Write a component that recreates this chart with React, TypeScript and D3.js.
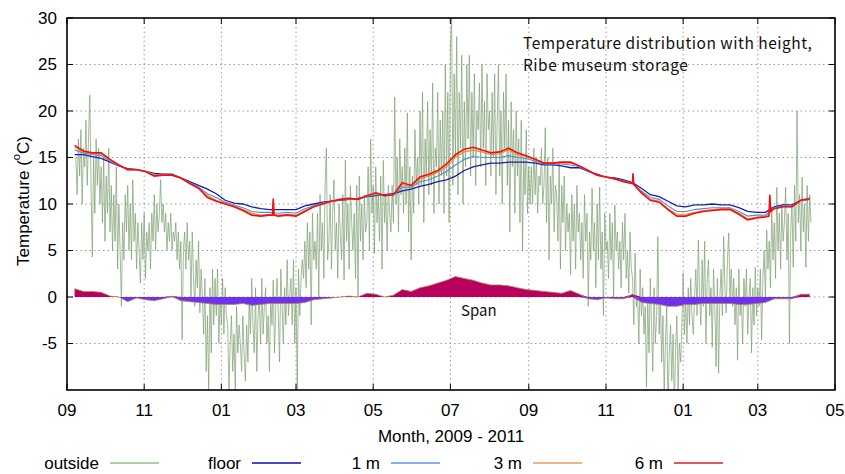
import React from "react";
import * as d3 from "d3";

// ---------- data ----------
const startDate = Date.UTC(2009, 8, 1);
const endDate = Date.UTC(2011, 4, 1);

// outside temperature, one value per day starting at day 7 after 2009-09-01
const outsideStartDay = 7;
const outside = [
  15, 11, 17, 13, 18, 10, 16, 14, 19, 12,
  17, 21.7, 12, 4.3, 15, 9, 17, 12, 16, 10,
  14, 8, 15, 6, 13, 9, 16, 7, 12, 5,
  11, 6, 14, 3, 10, 5, -1, 8, 4, 11,
  7, 12, 5, 10, 4, 12.6, 6, 9, 3, 8,
  5, 1.5, 8, 4, 9, 2, 7, 5, 8, 3,
  9, 6, 11, 5, 10, 7, 9, 12.6, 8, 10,
  7, 9, 5, 8, 6, 9, 5, 7, 6, 8,
  4, 7, 3, 6, -4.6, 5, 7, 3, 8, 4,
  6, 0, 7, 2, -1, 4, 1, 6, -1.7, 3,
  0, -4, 2, -8, -2, -10, 1, -6, 3, -3,
  2, -2, 3, -5, 0, -3, 2, -4, 1, -2,
  -3, -10, -5, -2, -8, -4, -10, -1, -6, -3,
  -5, -8, -2, -6, -9, -3, -7, 0, -4, 2,
  -3, -6, 1, -8, -2, 0, -5, 2, -4, -1,
  1, -5, -2, -8, 0, -3, 1.8, -6, -1, 2,
  -2, -7, 3, -1, -5, 1, -3, 4, -2, 0,
  2, -3, 4, -5, 1, -10, 3, -2, 2, 4,
  2, 6, 1, 8, 3, 7, -3, 9, 4, 6,
  3, 9, 0, 11, 5, 8, 2, 12, 16, 4,
  6, 11, 3, 9, 12.6, 5, 8, 2, 10, 7,
  4, 11, 1.8, 14.7, 6, 10, 3, 12, 8, 5,
  9, 2, 12, 0, 13, 6, 10, 4, 11, 7,
  8, 14, 5, 17, 9, 12, 4.7, 14, 8, 11,
  6, 13, 3, 14.7, 8, 11, 5, 12, 9, 7,
  12, 8, 21.5, 10, 15, 7, 17, 11, 14, 9,
  16, 10, 19.8, 7, 14, 4, 13, 9, 18, 12,
  15, 10, 20, 12, 22, 8, 17, 13, 21, 11,
  18, 12, 23, 9, 16, 14, 22, 10, 19, 13,
  20, 9, 25, 13, 22, 8, 27, 30, 12, 24,
  15, 28, 11, 22, 16, 26, 10, 21, 14, 25,
  17, 26, 13, 22, 15, 24, 12, 20, 18, 23,
  14, 25, 16, 21, 12, 24, 18, 20, 13, 22,
  15, 24, 11, 19, 25, 13, 20, 10, 22, 16,
  24, 12, 19, 7, 21, 14, 18, 9, 20, 13,
  17, 8, 19, 5, 15, 11, 18, 9, 14, 10,
  14, 10, 16, 11, 15, 9, 13, 12, 16, 10,
  12, 18.2, 8, 15, 4, 13, 10, 16, 7, 12,
  11, 6, 14.6, 3, 12, 8, 13, 5, 10, 7,
  9, 2.4, 11, 6, 10, 3, 12, 7, 9, 4,
  8, 2, 11, 6, 9, -1, 7, 4, 11.7, 5,
  8, 1, 10, 4, 11.8, 3, 7, -2, 9, 5,
  6, 2, 9, 4, 8, 0, 9.9, 5, 7, 3,
  6, 1, 8, 4, 9, 2, 5, 0.4, 7, 3,
  2, -3, 4.7, -1, 0, -5, 3, -2, 1, -4,
  -1, -9.7, 0, -6, 2, -3, -8, 1, -5, -2,
  6.5, -4, 0, -7, -2, -10, -5, -1, -12, -6,
  -3, -9, -4, -12, -6, -2, -10, -5, -7, -3,
  2.6, -4, 0, -5, 1, -3, 2, -2, -4, 0,
  3, -2, 6.1, 0, -3, 4, -1, 6, -5, 2,
  4, -2, 1, -5.4, 3, -1, -7.5, 2, -8.2, 0,
  3, -2, 6.5, 1, -1.7, 4, 6.9, 0, 3, -1,
  2, -3, 1, -6.8, 3, -2, 0, -5, 2, -1,
  3, -4, 0, 2, -6, 1, -3, 3.2, -2, 1,
  -1, 3, -4.6, 2, 5, 0, 7.2, 3, 6, 1,
  9.7, 4, 8, 2, 11.8, 5, 9, 3, 10, 6,
  8, 11.8, 4, 9, -5, 7, 10, 3.2, 12, 6,
  20, 8, 11, 5, 12.9, 7, 10, 3.2, 12, 6,
  11, 8,
];

// indoor sensors: weekly values starting at day 6
const indoorStartDay = 6;
const indoorStepDays = 7;
const floor = [
  15.3, 15.3, 15.1, 14.9, 14.5, 14.1, 13.8, 13.7, 13.5, 13.3,
  13.2, 13.2, 12.8, 12.4, 12.0, 11.6, 11.1, 10.4, 10.1, 10.0,
  9.7, 9.5, 9.4, 9.4, 9.4, 9.4, 9.8, 10.0, 10.2, 10.3,
  10.4, 10.5, 10.6, 10.8, 10.9, 11.0, 11.1, 11.4, 11.6, 11.9,
  12.1, 12.4, 12.6, 13.0, 13.6, 14.0, 14.2, 14.4, 14.4, 14.5,
  14.5, 14.5, 14.4, 14.2, 14.2, 14.1, 13.9, 13.9, 13.5, 13.2,
  12.9, 12.8, 12.6, 12.3, 11.7, 11.0, 10.8, 10.3, 9.8, 9.7,
  9.9, 9.9, 10.0, 9.9, 9.9, 9.6, 9.2, 9.1, 9.1, 9.7,
  9.9, 9.9, 10.4, 10.5,
];
const oneM = [
  15.8, 15.5, 15.3, 15.2, 14.6, 14.1, 13.7, 13.7, 13.5, 13.2,
  13.1, 13.1, 12.8, 12.3, 11.8, 11.1, 10.7, 10.2, 9.9, 9.6,
  9.2, 9.1, 9.1, 9.0, 9.1, 9.0, 9.5, 9.8, 10.1, 10.3,
  10.4, 10.5, 10.5, 10.8, 11.0, 10.9, 11.0, 11.8, 11.8, 12.4,
  12.6, 13.0, 13.5, 14.2, 14.8, 15.1, 15.0, 15.0, 15.0, 15.2,
  15.0, 14.9, 14.6, 14.3, 14.3, 14.3, 14.2, 14.0, 13.5, 13.1,
  12.9, 12.7, 12.5, 12.2, 11.4, 10.7, 10.5, 9.8, 9.2, 9.2,
  9.4, 9.5, 9.6, 9.6, 9.6, 9.2, 8.7, 8.8, 8.8, 9.6,
  9.8, 9.8, 10.4, 10.5,
];
const threeM = [
  16.1, 15.6, 15.4, 15.4, 14.7, 14.2, 13.7, 13.7, 13.5, 13.1,
  13.1, 13.1, 12.8, 12.2, 11.7, 10.9, 10.4, 10.1, 9.8, 9.4,
  9.0, 8.8, 8.9, 8.8, 8.9, 8.8, 9.3, 9.7, 10.0, 10.3,
  10.5, 10.6, 10.5, 10.9, 11.1, 10.9, 11.0, 12.1, 11.9, 12.7,
  13.0, 13.4, 14.0, 15.0, 15.6, 15.8, 15.6, 15.3, 15.4, 15.8,
  15.3, 15.1, 14.7, 14.4, 14.4, 14.4, 14.4, 14.1, 13.6, 13.1,
  12.9, 12.7, 12.4, 12.2, 11.3, 10.5, 10.3, 9.5, 8.9, 8.9,
  9.1, 9.3, 9.4, 9.5, 9.5, 9.0, 8.4, 8.6, 8.7, 9.5,
  9.7, 9.7, 10.4, 10.6,
];
const sixM = [
  16.3, 15.7, 15.5, 15.5, 14.8, 14.2, 13.7, 13.7, 13.5, 13.0,
  13.1, 13.1, 12.8, 12.2, 11.7, 10.7, 10.3, 10.0, 9.7, 9.3,
  8.8, 8.7, 8.8, 8.7, 8.8, 8.7, 9.2, 9.7, 10.0, 10.3,
  10.5, 10.6, 10.5, 10.9, 11.2, 10.9, 11.0, 12.3, 12.0, 12.9,
  13.2, 13.6, 14.3, 15.3, 15.9, 16.1, 15.8, 15.5, 15.6, 16.0,
  15.5, 15.2, 14.8, 14.4, 14.4, 14.5, 14.5, 14.1, 13.6, 13.1,
  12.9, 12.7, 12.4, 12.2, 11.2, 10.4, 10.2, 9.4, 8.7, 8.7,
  9.0, 9.2, 9.3, 9.4, 9.4, 8.9, 8.3, 8.5, 8.6, 9.5,
  9.7, 9.7, 10.4, 10.6,
];
// short heating events seen on the 6 m sensor
const sixMSpikeDays = [162.4, 163, 163.7, 446.6, 447.3, 448, 554.8, 555.5, 556.2];
const sixMSpikeValues = [8.8, 10.6, 8.8, 12.2, 13.3, 12.1, 8.7, 11.0, 9.2];

// span (6 m minus floor), weekly
const span = [
  0.9, 0.6, 0.6, 0.5, 0.1, 0.0, -0.5, -0.1, -0.3, -0.4,
  -0.2, 0.1, -0.4, -0.5, -0.6, -0.7, -0.8, -0.8, -0.8, -0.7,
  -0.9, -0.8, -0.7, -0.7, -0.7, -0.7, -0.6, -0.3, -0.2, -0.1,
  0.0, 0.1, 0.0, 0.4, 0.3, 0.0, 0.2, 0.8, 0.6, 1.0,
  1.2, 1.5, 1.8, 2.2, 2.0, 1.8, 1.5, 1.3, 1.3, 1.2,
  1.0, 0.8, 0.7, 0.6, 0.5, 0.4, 0.7, 0.3, -0.2, -0.3,
  -0.1, -0.2, -0.2, 0.3, -0.6, -0.7, -0.8, -1.0, -1.0, -0.8,
  -0.8, -0.7, -0.7, -0.7, -0.7, -0.8, -0.8, -0.7, -0.6, -0.2,
  -0.2, -0.2, 0.3, 0.3,
];

const yTickValues = [-5, 0, 5, 10, 15, 20, 25, 30];
const legendNames = ["outside", "floor", "1 m", "3 m", "6 m"];
const legendColors = ["#b3cbad", "#4a4ac8", "#86aee8", "#f0b585", "#e25858"];
const titleLines = ["Temperature distribution with height,", "Ribe museum storage"];

// ---------- layout ----------
const W = 845;
const H = 474;
const PL = 67, PR = 835, PT = 18, PB = 390;
const sans = "'Liberation Sans', Arial, sans-serif";
const gothic = "'Noto Sans CJK JP', 'Noto Sans', sans-serif";

const dayToDate = (d: number) => new Date(startDate + d * 864e5);

export default function App() {
  const x = d3.scaleUtc().domain([new Date(startDate), new Date(endDate)]).range([PL, PR]);
  const y = d3.scaleLinear().domain([-10, 30]).range([PB, PT]);
  const xTicks = x.ticks(d3.utcMonth.every(2) as any);
  const fmt = d3.utcFormat("%m");

  type P = { d: number; v: number };
  const outsidePts: P[] = outside.map((v, i) => ({ d: outsideStartDay + i, v }));
  const weekly = (arr: number[]): P[] => arr.map((v, i) => ({ d: indoorStartDay + i * indoorStepDays, v }));
  const floorPts = weekly(floor);
  const oneMPts = weekly(oneM);
  const threeMPts = weekly(threeM);
  const sixMPts = weekly(sixM)
    .concat(sixMSpikeDays.map((d, i) => ({ d, v: sixMSpikeValues[i] })))
    .sort((a, b) => a.d - b.d);
  const spanPts = weekly(span);

  const line = d3.line<P>().x((p) => x(dayToDate(p.d))).y((p) => y(p.v));
  const posArea = d3.area<P>().x((p) => x(dayToDate(p.d))).y0(y(0)).y1((p) => y(Math.max(p.v, 0)));
  const negArea = d3.area<P>().x((p) => x(dayToDate(p.d))).y0(y(0)).y1((p) => y(Math.min(p.v, 0)));

  const legendRight = [99, 241, 380, 522, 663];

  return (
    <svg width={W} height={H} style={{ position: "absolute", left: 0, top: 0, background: "#fff" }}
      xmlns="http://www.w3.org/2000/svg">
      <defs>
        <clipPath id="plotClip">
          <rect x={PL} y={PT} width={PR - PL} height={PB - PT} />
        </clipPath>
      </defs>
      <rect x={0} y={0} width={W} height={H} fill="#fff" />

      {/* grid */}
      <g stroke="#9a9a9a" strokeWidth={1} strokeDasharray="1.5,3">
        {xTicks.slice(1, -1).map((t, i) => (
          <line key={"gx" + i} x1={x(t)} x2={x(t)} y1={PT} y2={PB} />
        ))}
        {yTickValues.filter((v) => v < 30).map((v) => (
          <line key={"gy" + v} x1={PL} x2={PR} y1={y(v)} y2={y(v)} />
        ))}
      </g>

      <g clipPath="url(#plotClip)">
        <path d={line(outsidePts) || ""} fill="none" stroke="#7fa072" strokeOpacity={0.8} strokeWidth={0.9} />
        <path d={posArea(spanPts) || ""} fill="#b8005c" />
        <path d={negArea(spanPts) || ""} fill="#7030ec" />
        <path d={line(spanPts) || ""} fill="none" stroke="#a88a5e" strokeWidth={0.8} />
        <path d={line(floorPts) || ""} fill="none" stroke="#1c1cae" strokeWidth={1.3} />
        <path d={line(oneMPts) || ""} fill="none" stroke="#4a8ee0" strokeWidth={1.1} />
        <path d={line(threeMPts) || ""} fill="none" stroke="#ec8a2c" strokeWidth={1.2} />
        <path d={line(sixMPts) || ""} fill="none" stroke="#f01010" strokeWidth={1.6} />
      </g>

      {/* ticks */}
      <g stroke="#000" strokeWidth={1}>
        {xTicks.map((t, i) => (
          <g key={"tx" + i}>
            <line x1={x(t)} x2={x(t)} y1={PB} y2={PB - 6} />
            <line x1={x(t)} x2={x(t)} y1={PT} y2={PT + 6} />
          </g>
        ))}
        {yTickValues.map((v) => (
          <g key={"ty" + v}>
            <line x1={PL} x2={PL + 6} y1={y(v)} y2={y(v)} />
            <line x1={PR} x2={PR - 6} y1={y(v)} y2={y(v)} />
          </g>
        ))}
      </g>
      <rect x={PL} y={PT} width={PR - PL} height={PB - PT} fill="none" stroke="#000" strokeWidth={1.6} />

      {/* tick labels */}
      <g fontFamily={sans} fontSize={17} fill="#000">
        {yTickValues.map((v) => (
          <text key={"ly" + v} x={57} y={y(v)} textAnchor="end" dominantBaseline="central">{v}</text>
        ))}
        {xTicks.map((t, i) => (
          <text key={"lx" + i} x={x(t)} y={410} textAnchor="middle" dominantBaseline="central">{fmt(t)}</text>
        ))}
        <text x={451} y={436} textAnchor="middle" dominantBaseline="central">Month, 2009 - 2011</text>
        <text transform="translate(23,201) rotate(-90)" textAnchor="middle" dominantBaseline="central">
          Temperature (<tspan fontSize={11} dy={-7}>o</tspan><tspan dy={7}>C)</tspan>
        </text>
      </g>

      {/* title + span label */}
      <g fontFamily={gothic} fontSize={15.5} fill="#111" letterSpacing={0.5}>
        <text x={523} y={49}>{titleLines[0]}</text>
        <text x={523} y={71}>{titleLines[1]}</text>
        <text x={461} y={316} fontSize={15} letterSpacing={0}>Span</text>
      </g>

      {/* legend */}
      <g fontFamily={sans} fontSize={17}>
        {legendNames.map((n, i) => (
          <g key={n}>
            <text x={legendRight[i]} y={463} textAnchor="end" dominantBaseline="central">{n}</text>
            <line x1={legendRight[i] + 11} x2={legendRight[i] + 60} y1={463} y2={463}
              stroke={legendColors[i]} strokeWidth={2} />
          </g>
        ))}
      </g>
    </svg>
  );
}
